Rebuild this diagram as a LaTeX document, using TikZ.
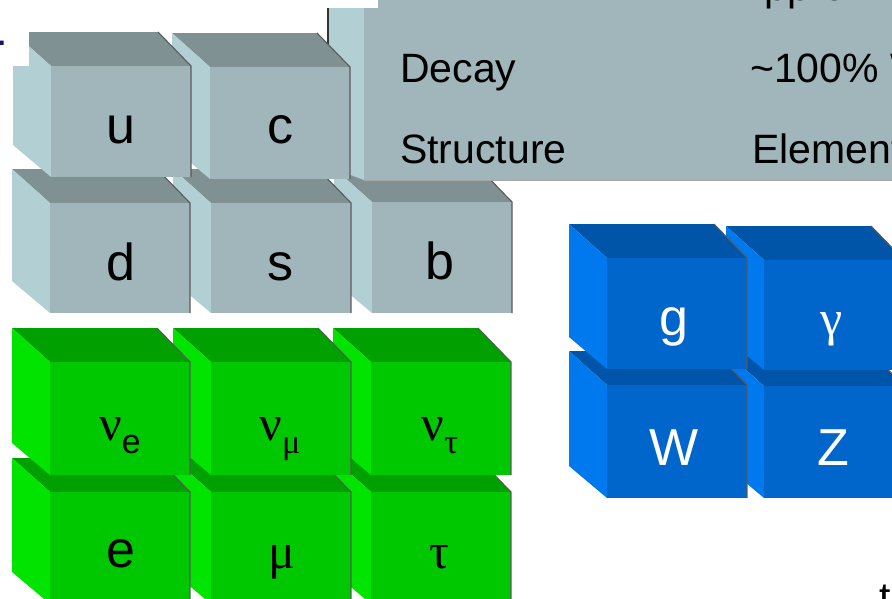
\documentclass[tikz,border=0pt]{standalone}
\usepackage{fontspec}
\setmainfont{Liberation Sans}
\newfontfamily\grk{Liberation Serif}
\definecolor{quarkF}{RGB}{160,182,186}
\definecolor{quarkT}{RGB}{128,145,148}
\definecolor{quarkL}{RGB}{178,207,211}
\definecolor{leptonF}{RGB}{0,200,0}
\definecolor{leptonT}{RGB}{0,160,0}
\definecolor{leptonL}{RGB}{0,228,0}
\definecolor{bosonF}{RGB}{0,102,204}
\definecolor{bosonT}{RGB}{0,85,168}
\definecolor{bosonL}{RGB}{0,120,238}
\definecolor{navytext}{RGB}{20,20,110}
% #1 front-left x, #2 front-top y, #3 height, #4 palette
\newcommand\drawcube[4]{%
  \fill[#4T] (#1,#2) -- ({#1-38},{#2-34}) -- ({#1+107},{#2-34}) -- ({#1+140},#2) -- cycle;
  \fill[#4L] (#1,#2) -- ({#1-38},{#2-34}) -- ({#1-38},{#2+#3-32}) -- (#1,{#2+#3}) -- cycle;
  \fill[#4F] (#1,#2) rectangle ({#1+140},{#2+#3});
  \draw[shadowline] ({#1+107},{#2-34}) -- ({#1+140},#2) -- ({#1+140},{#2+#3});
}
\tikzset{
  shadowline/.style={draw=black!65, line width=1.1pt},
  lbl/.style={anchor=base, inner sep=0pt, font=\fontsize{52}{52}\selectfont},
  glbl/.style={anchor=base, inner sep=0pt, font=\fontsize{50}{50}\selectfont\grk},
  tbl/.style={anchor=base west, inner sep=0pt, font=\fontsize{41}{41}\selectfont},
}
\newcommand\subsans[1]{\raisebox{-13pt}{\fontsize{34}{34}\selectfont\rmfamily #1}}
\newcommand\subgrk[1]{\raisebox{-13pt}{\fontsize{34}{34}\selectfont\grk #1}}
\begin{document}
\begin{tikzpicture}[x=1pt,y=-1pt]
\useasboundingbox (0,0) rectangle (892,598);
\clip (0,0) rectangle (892,598);
\fill[white] (0,0) rectangle (892,598);

% quarks, lower row (right to left)
\drawcube{372}{202}{111}{quark}
\drawcube{211}{203}{110}{quark}
\drawcube{50}{203}{110}{quark}
% table box
\fill[quarkL] (329,8) -- (364,8) -- (364,180) -- (329,167) -- cycle;
\fill[quarkF] (364,0) rectangle (892,180);
\draw[black!35, line width=0.8pt] (364,180) -- (892,180);
\draw[black!80, line width=1.2pt] (328,8) -- (328,45);
% quarks, upper row
\drawcube{210}{67}{112}{quark}
\drawcube{51}{66}{111}{quark}

% leptons
\drawcube{371}{492}{112}{lepton}
\drawcube{211}{492}{112}{lepton}
\drawcube{50}{492}{112}{lepton}
\drawcube{371}{362}{113}{lepton}
\drawcube{211}{362}{113}{lepton}
\drawcube{50}{362}{113}{lepton}

% bosons
\drawcube{764}{386}{112}{boson}
\drawcube{607}{385}{113}{boson}
\drawcube{764}{260}{110}{boson}
\drawcube{607}{258}{111}{boson}

% white box over top-left
\fill[white] (0,0) rectangle (378,8);
\fill[white] (0,0) rectangle (29,66);
\node[tbl, text=navytext] (frag) at (-4,45) {.};

% quark labels
\node[lbl] (u) at (121,143) {u};
\node[lbl] (c) at (280,143) {c};
\node[lbl] (d) at (121,280) {d};
\node[lbl] (s) at (280,280) {s};
\node[lbl] (b) at (440,279) {b};

% lepton labels
\node[glbl] (nue) at (120,440) {ν\subsans{e}};
\node[glbl] (numu) at (280,440) {ν\subgrk{μ}};
\node[glbl] (nutau) at (440,440) {ν\subgrk{τ}};
\node[lbl] (e) at (121,567) {e};
\node[glbl] (mu) at (282,568) {μ};
\node[glbl] (tau) at (440,568) {τ};

% boson labels
\node[lbl, text=white] (g) at (674,335) {g};
\node[glbl, text=white] (gamma) at (832,335) {γ};
\node[lbl, text=white] (W) at (674,465) {W};
\node[lbl, text=white] (Z) at (833,465) {Z};

% table text
\node[tbl] (top) at (737,0) {Approx};
\node[tbl] (decay) at (400,82) {Decay};
\node[tbl] (decayv) at (750,82) {\textasciitilde100\% W};
\node[tbl] (struct) at (400,163) {Structure};
\node[tbl] (structv) at (752,163) {Elementary};

% fragment at bottom right
\node[tbl, anchor=base] (tfrag) at (885,611) {t};
\end{tikzpicture}
\end{document}
